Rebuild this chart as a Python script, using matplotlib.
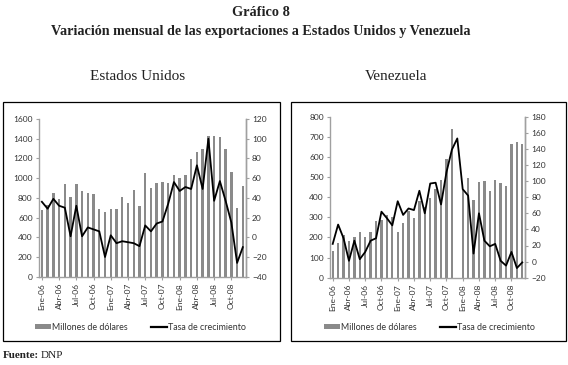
import numpy as np
import matplotlib
matplotlib.use("Agg")
import matplotlib.pyplot as plt
from matplotlib.patches import Rectangle, Patch
from matplotlib.lines import Line2D

# meses Ene-06 ... Dic-08
meses = ["Ene", "Feb", "Mar", "Abr", "May", "Jun", "Jul", "Ago", "Sep", "Oct", "Nov", "Dic"]
periodos = [m + "-" + a for a in ("06", "07", "08") for m in meses]
etiquetas = ["Ene-06", "Abr-06", "Jul-06", "Oct-06", "Ene-07", "Abr-07",
             "Jul-07", "Oct-07", "Ene-08", "Abr-08", "Jul-08", "Oct-08"]

# Estados Unidos
eeuu_millones = [680, 730, 850, 790, 940, 810, 940, 865, 850, 840, 685, 660,
                 690, 685, 805, 745, 880, 715, 1050, 900, 950, 965, 950, 1030,
                 1005, 1030, 1195, 1270, 1295, 1430, 1430, 1420, 1295, 1060, 695, 925]
eeuu_tasa = [36, 29, 39, 32, 30, 1, 32, 1, 10, 8, 6, -20,
             2, -6, -4, -5, -6, -9, 12, 6, 14, 16, 34, 56,
             47, 51, 49, 73, 49, 100, 37, 57, 37, 15, -26, -10]

# Venezuela
ven_millones = [134, 174, 212, 184, 202, 225, 204, 228, 282, 286, 311, 300,
                228, 273, 330, 295, 380, 350, 395, 440, 485, 588, 737, 0,
                436, 494, 386, 474, 480, 431, 487, 469, 457, 663, 676, 664]
ven_tasa = [22, 46, 29, 1, 26, 3, 12, 26, 29, 62, 54, 45,
            75, 58, 66, 64, 88, 60, 97, 98, 71, 111, 139, 153,
            90, 82, 10, 60, 26, 19, 22, 1, -5, 12, -8, -1]

W, H = 568, 365
plt.rcParams['font.family'] = ['Lato', 'DejaVu Sans']
fig = plt.figure(figsize=(W / 100, H / 100), dpi=100)

GRIS = "#8a8a8a"
EJE = "#a0a0a0"
TXT = "#333333"


def px(x0, y0, x1, y1):
    # caja en pixeles (origen arriba-izquierda) -> fracciones de figura
    return [x0 / W, 1 - y1 / H, (x1 - x0) / W, (y1 - y0) / H]


def panel(rect, millones, tasa, lim1, paso1, lim2, paso2, ley_x, ley_y):
    ax = fig.add_axes(rect)
    x = np.arange(len(millones))
    ax.bar(x, millones, width=0.42, color=GRIS, zorder=1)
    ax.set_xlim(-0.5, len(millones) - 0.5)
    ax.set_ylim(*lim1)
    ax.set_yticks(np.arange(lim1[0], lim1[1] + 1, paso1))
    ax.set_xticks([periodos.index(e) for e in etiquetas])
    ax.set_xticklabels(etiquetas, rotation=90)

    ax2 = ax.twinx()
    ax2.plot(x, tasa, color="black", lw=1.3, zorder=3)
    ax2.set_ylim(*lim2)
    ax2.set_yticks(np.arange(lim2[0], lim2[1] + 1, paso2))

    for a in (ax, ax2):
        a.spines["top"].set_visible(False)
        for s in ("left", "right", "bottom"):
            a.spines[s].set_color(EJE)
            a.spines[s].set_linewidth(1.0)
        a.tick_params(labelsize=6, colors=EJE, labelcolor=TXT, length=2.5, width=0.8, pad=2)
    ax2.spines["left"].set_visible(False)
    ax2.spines["bottom"].set_visible(False)

    handles = [Patch(facecolor=GRIS, edgecolor="none"),
               Line2D([], [], color="black", lw=1.6)]
    ax.legend(handles, ["Millones de dólares", "Tasa de crecimiento"],
              loc="center", bbox_to_anchor=(ley_x, ley_y), ncol=2, frameon=False,
              fontsize=6.4, handlelength=1.8, handleheight=0.5, handletextpad=0.15,
              columnspacing=2.6, labelcolor=TXT)
    return ax


panel(px(39, 119, 245.7, 276.7), eeuu_millones, eeuu_tasa,
      (0, 1600), 200, (-40, 120), 20, 0.49, -0.32)
panel(px(330, 116.7, 525, 277.7), ven_millones, ven_tasa,
      (0, 800), 100, (-20, 180), 20, 0.51, -0.31)

# marcos de los paneles
for caja in (px(3, 102, 280, 341), px(291, 102, 566, 341)):
    fig.add_artist(Rectangle((caja[0], caja[1]), caja[2], caja[3], transform=fig.transFigure,
                             fill=False, ec="black", lw=0.9))

serif = ["Liberation Serif", "DejaVu Serif"]
fig.text(261 / W, 1 - 12 / H, "Gráfico 8", ha="center", va="center",
         family=serif, fontsize=10.3, fontweight="bold", color="#222222")
fig.text(261 / W, 1 - 31 / H, "Variación mensual de las exportaciones a Estados Unidos y Venezuela",
         ha="center", va="center", family=serif, fontsize=10.2, fontweight="bold", color="#222222")
fig.text(138 / W, 1 - 77 / H, "Estados Unidos", ha="center", va="center",
         family=serif, fontsize=11, color="#222222")
fig.text(396 / W, 1 - 77 / H, "Venezuela", ha="center", va="center",
         family=serif, fontsize=11, color="#222222")
fig.text(3 / W, 1 - 355 / H, "Fuente:", ha="left", va="center",
         family=serif, fontsize=8, fontweight="bold", color="#222222")
fig.text(41 / W, 1 - 355 / H, "DNP", ha="left", va="center",
         family=serif, fontsize=8, color="#222222")

fig.savefig("out.png", dpi=100, facecolor="white")
